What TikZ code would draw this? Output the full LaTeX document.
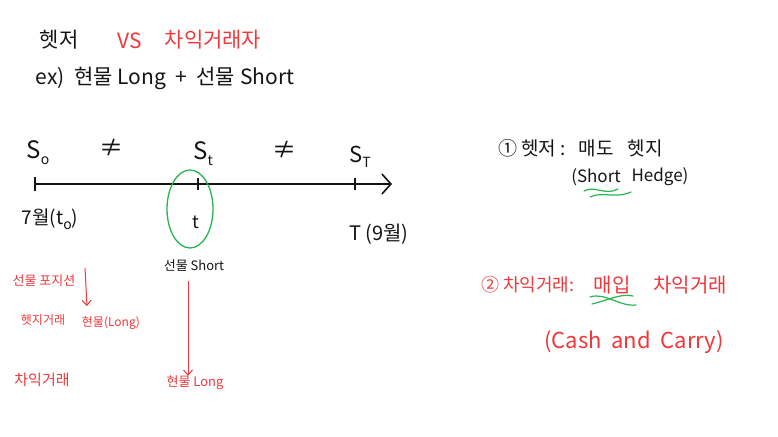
\documentclass[tikz,border=0pt]{standalone}
\usepackage{fontspec}
\setmainfont{Noto Sans CJK KR}
\usetikzlibrary{arrows.meta}
\definecolor{pen}{RGB}{20,20,20}
\definecolor{redpen}{RGB}{240,55,60}
\definecolor{greenpen}{RGB}{40,180,80}
\newcommand{\fs}[1]{\fontsize{#1}{#1}\selectfont}
\newcommand{\sub}[1]{\raisebox{-0.45ex}{\fs{14}#1}}
\tikzset{
  blk/.style={text=pen, inner sep=0pt},
  red/.style={text=redpen, inner sep=0pt},
  redarrow/.style={draw=redpen, line width=1pt, -{Straight Barb[length=5pt,width=9pt]}},
  squig/.style={draw=greenpen, line width=1.2pt, line cap=round},
  axis/.style={draw=pen, line width=2.6pt, -{Straight Barb[length=9pt,width=20pt,line width=1.6pt]}},
  tick/.style={draw=pen, line width=1.4pt},
}
\begin{document}
\begin{tikzpicture}[x=1pt,y=-1pt]
\useasboundingbox (0,0) rectangle (778,436);
% title
\node[blk, font=\fs{21}] (hedger) at (59,40) {헷저};
\node[red, font=\fs{21}] (vs) at (130,41) {VS};
\node[red, font=\fs{21}] (arbitr) at (213,40) {차익거래자};
\node[blk, font=\fs{21}] (ex) at (165,78) {ex)\ \ 현물 Long\ \ +\ \ 선물 Short};
% timeline
\coordinate (t0) at (35,184);
\coordinate (tt) at (198,184);
\coordinate (tT) at (355,184);
\coordinate (tend) at (392,184);
\draw[axis] (t0) -- (tend);
\draw[tick] ([yshift=-7pt]t0) -- ([yshift=7pt]t0);
\draw[tick] ([yshift=-6pt]tt) -- ([yshift=6pt]tt);
\draw[tick] ([yshift=-6pt]tT) -- ([yshift=6pt]tT);
\node[blk, font=\fs{24}] (S0) at (38,153) {S\sub{o}};
\node[blk, font=\fs{24}] (ne1) at (111,148) {≠};
\node[blk, font=\fs{24}] (St) at (203,154) {S\sub{t}};
\node[blk, font=\fs{24}] (ne2) at (284,150) {≠};
\node[blk, font=\fs{22}] (ST) at (360,157) {S\sub{T}};
\node[blk, font=\fs{19}] (jul) at (50,219) {7월(t\sub{o})};
\node[blk, font=\fs{18}] (tlab) at (196,222) {t};
\node[blk, font=\fs{20}] (sep) at (379,234) {T (9월)};
\draw[draw=greenpen, line width=1.3pt] (190,209) ellipse [x radius=23, y radius=39];
% under t
\node[blk, font=\fs{13}] (fshort) at (194,266) {선물 Short};
\node[red, font=\fs{13}] (slong) at (195,383) {현물 Long};
\draw[redarrow] (188,281) -- (slong.north -| 188,0);
% left red notes
\node[red, font=\fs{13}] (fpos) at (44,281) {선물 포지션};
\node[red, font=\fs{12}] (hedge) at (43,320) {헷지거래};
\node[red, font=\fs{12}] (spotl) at (111,323) {현물(Long)};
\node[red, font=\fs{15}] (arb) at (42,380) {차익거래};
\draw[redarrow] (85,268) -- (87,306);
% right notes: hedger
\node[blk, font=\fs{19}, anchor=west] (r1a) at (498,148) {① 헷저 :};
\node[blk, font=\fs{19}] (r1b) at (596,148) {매도};
\node[blk, font=\fs{19}] (r1c) at (645,148) {헷지};
\node[blk, font=\fs{17}] (r1d) at (596,177) {(Short};
\node[blk, font=\fs{17}] (r1e) at (660,177) {Hedge)};
\draw[squig] (584,191) .. controls (595,185) and (605,196) .. (618,189);
\draw[squig] (590,197) .. controls (603,191) and (615,199) .. (631,192);
% right notes: arbitrageur
\node[red, font=\fs{18}, anchor=west] (r2a) at (481,285) {② 차익거래:};
\node[red, font=\fs{20}] (r2b) at (612,285) {매입};
\node[red, font=\fs{20}] (r2c) at (690,285) {차익거래};
\node[red, font=\fs{22}] (r2d) at (634,342) {(Cash\ \ and\ \ Carry)};
\draw[squig] (590,297) .. controls (605,292) and (620,307) .. (636,305);
\draw[squig] (592,304) .. controls (608,300) and (622,293) .. (633,296);
\end{tikzpicture}
\end{document}
